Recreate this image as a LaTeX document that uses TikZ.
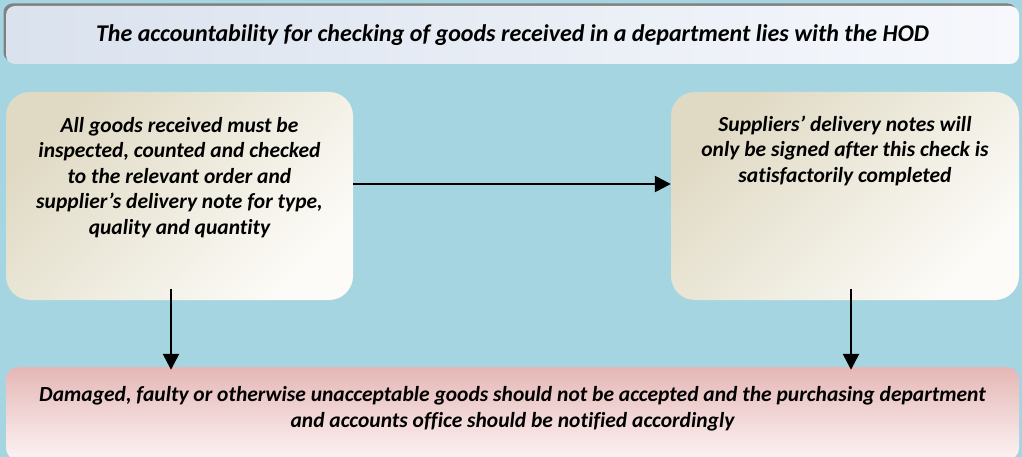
\documentclass[tikz,border=0pt]{standalone}
\usepackage{fontspec}
\setmainfont{Carlito}[Ligatures=NoCommon]
\usetikzlibrary{arrows.meta,shadows}

\definecolor{bgblue}{RGB}{166,213,226}
\definecolor{headleft}{RGB}{218,226,238}
\definecolor{headright}{RGB}{246,248,252}
\definecolor{beigedark}{RGB}{224,218,196}
\definecolor{beigelight}{RGB}{252,251,247}
\definecolor{pinkdark}{RGB}{229,183,182}
\definecolor{pinklight}{RGB}{252,243,243}

\begin{document}
\begin{tikzpicture}[x=1pt,y=-1pt,
		boxtext/.style={font=\fontsize{21.5}{25.5}\selectfont\bfseries\itshape},
		notebox/.style={boxtext, inner sep=0pt, rounded corners=24pt,
			top color=beigedark, bottom color=beigelight, shading angle=45},
		flow/.style={line width=2.5pt, -{Triangle[length=16pt,width=16pt]}}]
	% Fix the canvas and paint the background
	\useasboundingbox (0,0) rectangle (1022,457);
	\fill[bgblue] (0,0) rectangle (1022,457);
	
	% Heading box across the top
	\node[boxtext, font=\fontsize{24}{28}\selectfont\bfseries\itshape, inner sep=0pt, rounded corners=9pt,
		minimum width=1013pt, minimum height=58pt, left color=headleft, right color=headright,
		drop shadow={shadow xshift=-2.5pt, shadow yshift=2.5pt, fill=black!50, opacity=1}]
		(hod) at (512.5,35) {The accountability for checking of goods received in a department lies with the HOD};
	
	% Box on the left: checking the goods
	\node[notebox] (inspect) at (179.5,196) {\parbox[c][208pt][t]{347pt}{\centering\vspace*{25pt}%
		All goods received must be\\ inspected, counted and checked\\ to the relevant order and\\
		supplier’s delivery note for type,\\ quality and quantity}};
	
	% Box on the right: signing the notes
	\node[notebox] (sign) at (845,196) {\parbox[c][208pt][t]{348pt}{\centering\vspace*{24pt}%
		Suppliers’ delivery notes will\\ only be signed after this check is\\ satisfactorily completed}};
	
	% Box along the bottom
	\node[boxtext, font=\fontsize{21.5}{26.5}\selectfont\bfseries\itshape, inner sep=0pt, rounded corners=12pt,
		top color=pinkdark, bottom color=pinklight]
		(reject) at (512.5,413.5) {\parbox[c][93pt][t]{1013pt}{\centering\vspace*{19pt}%
		Damaged, faulty or otherwise unacceptable goods should not be accepted and the purchasing department\\
		and accounts office should be notified accordingly}};
	
	% Arrows between the boxes
	\draw[flow] ([yshift=12pt]inspect.east) -- ([yshift=12pt]sign.west);
	\draw[flow, shorten >=-3pt] ([xshift=-8.5pt,yshift=11pt]inspect.south) -- ([xshift=-8.5pt]inspect.south |- reject.north);
	\draw[flow, shorten >=-3pt] ([xshift=6pt,yshift=11pt]sign.south) -- ([xshift=6pt]sign.south |- reject.north);
\end{tikzpicture}
\end{document}
